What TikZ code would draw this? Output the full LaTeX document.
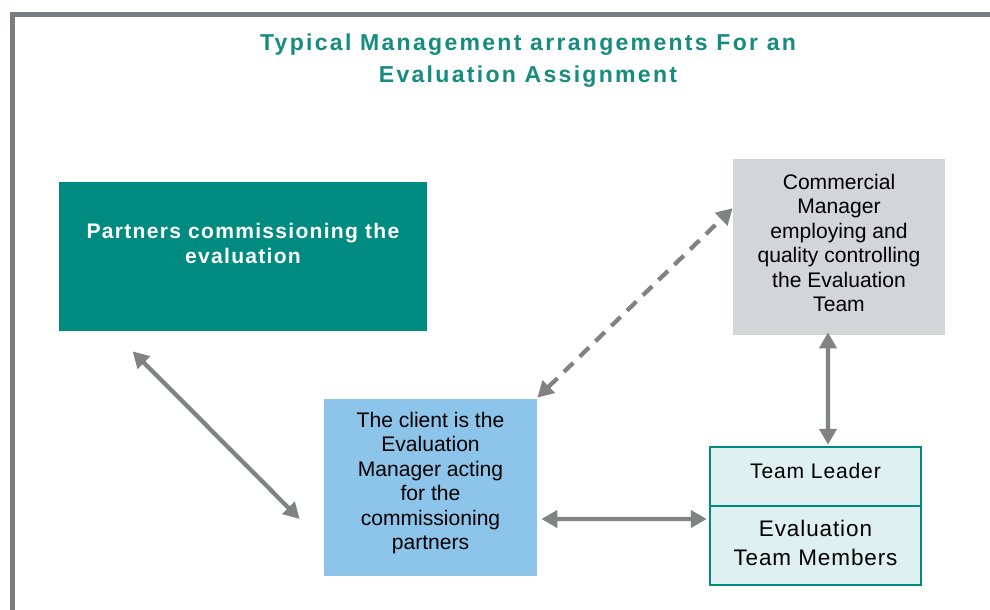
\documentclass[tikz,border=0pt]{standalone}
\usepackage{fontspec}
\setmainfont{Liberation Sans}
\newfontfamily\titlefont[LetterSpace=10]{Liberation Sans}
\newfontfamily\boxboldfont[LetterSpace=6]{Liberation Sans}
\newfontfamily\memberfont[LetterSpace=4]{Liberation Sans}
\usetikzlibrary{arrows.meta,calc}
\definecolor{tealA}{RGB}{0,139,128}
\definecolor{tealT}{RGB}{22,140,128}
\definecolor{arrowgray}{RGB}{128,130,132}
\definecolor{framegray}{RGB}{120,125,128}
\definecolor{cgray}{RGB}{211,213,215}
\definecolor{cblue}{RGB}{141,196,233}
\definecolor{tlight}{RGB}{222,240,240}
\tikzset{
  box/.style={rectangle, inner sep=0pt, align=center, text=black,
    font=\fontsize{12pt}{13.9pt}\selectfont},
  link/.style={draw=arrowgray, line width=0.085cm,
    {Triangle[length=0.32cm,width=0.34cm]}-{Triangle[length=0.32cm,width=0.34cm]}},
  dashlink/.style={link, dash pattern=on 0.26cm off 0.18cm}
}
\begin{document}
\begin{tikzpicture}[x=0.02cm,y=-0.02cm]
\useasboundingbox (0,0) rectangle (990,609);
\fill[white] (0,0) rectangle (990,609);
% frame
\draw[framegray, line width=0.1cm] (12.5,615) -- (12.5,14) -- (995,14);
% title
\node[text=tealT, align=center, font=\titlefont\bfseries\fontsize{13.1pt}{18.3pt}\selectfont] (title) at (528,61)
  {Typical Management arrangements For an\\Evaluation Assignment};
% partners
\node[box, fill=tealA, minimum width=368*0.02cm, minimum height=149*0.02cm] (partners) at (243,256.5) {};
\node[box, text=white, font=\boxboldfont\bfseries\fontsize{12pt}{14.2pt}\selectfont] (partnerstxt) at (243,243)
  {Partners commissioning the\\evaluation};
% commercial
\node[box, fill=cgray, minimum width=212*0.02cm, minimum height=176*0.02cm] (commercial) at (839,247) {};
\node[box] (commercialtxt) at (839,243)
  {Commercial\\Manager\\employing and\\quality controlling\\the Evaluation\\Team};
% client
\node[box, fill=cblue, minimum width=213*0.02cm, minimum height=177*0.02cm] (client) at (430.5,487.5) {};
\node[box] (clienttxt) at (430.5,483)
  {The client is the\\Evaluation\\Manager acting\\for the\\commissioning\\partners};
% team
\node[box, fill=tlight, draw=tealA, line width=0.05cm, minimum width=211*0.02cm, minimum height=59*0.02cm] (leader) at (815.5,476.5) {};
\node[box, font=\memberfont\fontsize{12pt}{14pt}\selectfont] (leadertxt) at (815.5,471) {Team Leader};
\node[box, fill=tlight, draw=tealA, line width=0.05cm, minimum width=211*0.02cm, minimum height=79*0.02cm] (members) at (815.5,545.5) {};
\node[box, font=\memberfont\fontsize{12.8pt}{16pt}\selectfont] (memberstxt) at (815.5,543) {Evaluation\\Team Members};
% connector end points
\coordinate (p1) at ($(partners.south west)+(74,20)$);
\coordinate (c1) at ($(client.west)+(-24,31.5)$);
\coordinate (c2) at ($(client.north east)+(0,-1)$);
\coordinate (m1) at ($(commercial.north west)!0.28!(commercial.south west)$);
\coordinate (m2) at ($(commercial.south)+(-11,-3)$);
\coordinate (t1) at ($(leader.north)+(12.5,-1)$);
\coordinate (c3) at ($(client.east)+(4,31.5)$);
\coordinate (t2) at ($(members.west)+(-2,-26.5)$);
% connectors
\draw[link] (p1) -- (c1);
\draw[dashlink] (c2) -- (m1);
\draw[link] (m2) -- (t1);
\draw[link] (c3) -- (t2);
\end{tikzpicture}
\end{document}
